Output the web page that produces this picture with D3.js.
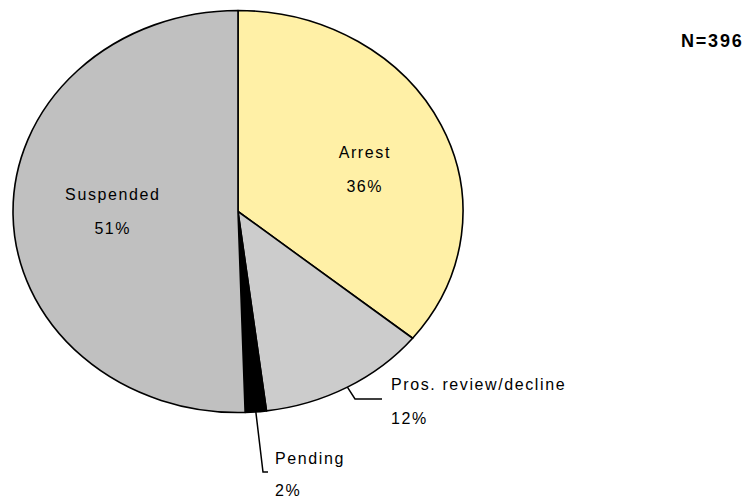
<!DOCTYPE html>
<html>
<head>
<meta charset="utf-8">
<script src="https://cdn.jsdelivr.net/npm/d3@7"></script>
<style>
  html, body { margin: 0; padding: 0; background: #ffffff; }
  svg { display: block; }
  text { font-family: "Liberation Sans", Arial, sans-serif; fill: #000; }
</style>
</head>
<body>
<svg id="chart" width="752" height="499"></svg>
<script>
// Case outcomes (counts, total N = 396), clockwise from 12 o'clock
const categories = ["Arrest", "Pros. review/decline", "Pending", "Suspended"];
const counts     = [142, 48, 6, 200];
const pctLabels  = ["36%", "12%", "2%", "51%"];
const totalLabel = "N=396";

const W = 752, H = 499;
const cx = 238, cy = 211.5;      // pie centre
const rx = 225, ry = 201;        // the pie is drawn slightly wider than tall

const svg = d3.select("#chart");
const defs = svg.append("defs");

// fine checker used for the "Pros. review/decline" slice
const pat = defs.append("pattern")
  .attr("id", "checker")
  .attr("patternUnits", "userSpaceOnUse")
  .attr("width", 2).attr("height", 2)
  .attr("patternTransform", `scale(${ry / rx},1)`);
pat.append("rect").attr("width", 2).attr("height", 2).attr("fill", "#e4e4e4");
pat.append("rect").attr("width", 1).attr("height", 1).attr("fill", "#b4b4b4");
pat.append("rect").attr("x", 1).attr("y", 1).attr("width", 1).attr("height", 1).attr("fill", "#b4b4b4");

const fills = ["#FFF0A6", "url(#checker)", "#000000", "#C0C0C0"];

const pie = d3.pie().sort(null).startAngle(0).endAngle(2 * Math.PI);
const arcs = pie(counts);
const arc = d3.arc().innerRadius(0).outerRadius(ry);

const g = svg.append("g")
  .attr("transform", `translate(${cx},${cy}) scale(${rx / ry},1)`);

g.selectAll("path.slice")
  .data(arcs)
  .join("path")
  .attr("class", "slice")
  .attr("d", arc)
  .attr("fill", (d, i) => fills[i])
  .attr("stroke", "#000")
  .attr("stroke-width", 1.6)
  .attr("stroke-linejoin", "round")
  .attr("vector-effect", "non-scaling-stroke");

// point on the ellipse edge at a pie angle (0 = up, clockwise)
function edgePoint(a) {
  return [cx + rx * Math.sin(a), cy - ry * Math.cos(a)];
}

// label placement: inside labels centred, outside labels with elbow leaders
const labelLayout = [
  { x: 364, y1: 158, y2: 191.5, anchor: "middle" },
  { x: 391, y1: 389.5, y2: 423.5, anchor: "start", elbow: [[355, 399], [382, 399]] },
  { x: 275, y1: 464, y2: 495.5, anchor: "start", elbow: [[263, 472], [268, 472]] },
  { x: 112, y1: 199.5, y2: 233.5, anchor: "middle" }
];

const labels = svg.append("g");
arcs.forEach((d, i) => {
  const L = labelLayout[i];
  const dx = L.anchor === "middle" ? 0.8 : 0;
  labels.append("text")
    .attr("x", L.x + dx).attr("y", L.y1)
    .attr("text-anchor", L.anchor)
    .attr("font-size", 16)
    .attr("letter-spacing", 1.6)
    .text(categories[i]);
  labels.append("text")
    .attr("x", L.x + dx).attr("y", L.y2)
    .attr("text-anchor", L.anchor)
    .attr("font-size", 16)
    .attr("letter-spacing", 1.6)
    .text(pctLabels[i]);
  if (L.elbow) {
    const mid = (d.startAngle + d.endAngle) / 2;
    const pts = [edgePoint(mid), ...L.elbow];
    labels.append("path")
      .attr("d", d3.line()(pts))
      .attr("fill", "none")
      .attr("stroke", "#000")
      .attr("stroke-width", 1.5);
  }
});

svg.append("text")
  .attr("x", 681).attr("y", 47)
  .attr("font-size", 18)
  .attr("font-weight", "bold")
  .attr("letter-spacing", 1.8)
  .text(totalLabel);
</script>
</body>
</html>
